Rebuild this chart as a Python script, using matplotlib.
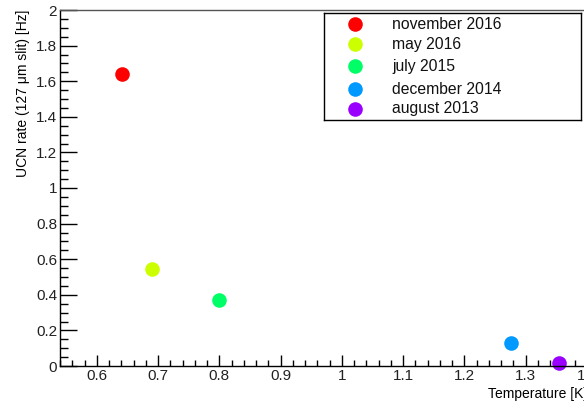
import matplotlib.pyplot as plt
from matplotlib.ticker import MultipleLocator, FuncFormatter

plt.rcParams['font.family'] = ['Liberation Sans', 'DejaVu Sans']

# UCN rate versus temperature for each run period
labels = ['november 2016', 'may 2016', 'july 2015', 'december 2014', 'august 2013']
temperature = [0.641, 0.690, 0.799, 1.276, 1.355]
rate = [1.64, 0.545, 0.37, 0.128, 0.015]
colors = ['#ff0000', '#ccff00', '#00ff66', '#0099ff', '#9900ff']

W, H = 584, 401
fig = plt.figure(figsize=(W / 100, H / 100), dpi=100)

# frame runs a little past the right edge of the canvas
ax = fig.add_axes([60 / W, 35 / H, 527 / W, 356 / H])
for x, y, c in zip(temperature, rate, colors):
    ax.plot(x, y, 'o', color=c, ms=10.5, mec='none', clip_on=False)

ax.set_xlim(0.54, 1.40)
ax.set_ylim(0, 2)
ax.xaxis.set_major_locator(MultipleLocator(0.1))
ax.xaxis.set_minor_locator(MultipleLocator(0.02))
ax.yaxis.set_major_locator(MultipleLocator(0.2))
ax.yaxis.set_minor_locator(MultipleLocator(0.05))
fmt = FuncFormatter(lambda v, p: '%g' % round(v, 3))
ax.xaxis.set_major_formatter(fmt)
ax.yaxis.set_major_formatter(fmt)

ax.tick_params(which='both', direction='in', top=False, right=False,
               labelsize=11, colors='black', labelcolor='#222222', width=1)
ax.tick_params(axis='y', which='major', length=12.5, pad=2)
ax.tick_params(axis='y', which='minor', length=6)
ax.tick_params(axis='x', which='major', length=8, pad=2.5)
ax.tick_params(axis='x', which='minor', length=4)
for s in ax.spines.values():
    s.set_linewidth(1)
    s.set_color('black')
ax.spines['top'].set_color('#555555')

ax.set_xlabel('Temperature [K]', fontsize=10, ha='right', x=1.0, labelpad=2.5)
ax.set_ylabel('UCN rate (127 \u03bcm slit) [Hz]', fontsize=10, ha='right', va='center')
ax.yaxis.set_label_coords(-37 / 527, 1.0)

# legend box
lax = fig.add_axes([324 / W, (H - 120) / H, 257 / W, 107 / H])
lax.set_xlim(0, 257)
lax.set_ylim(107, 0)
lax.set_xticks([])
lax.set_yticks([])
for s in lax.spines.values():
    s.set_linewidth(1)
rows = [11, 31, 53, 76, 96]
for yy, lab, c in zip(rows, labels, colors):
    lax.plot(31, yy, 'o', color=c, ms=10.5, mec='none')
    lax.text(68, yy, lab, fontsize=11.3, va='center', ha='left', color='#111111')

fig.savefig('out.png', dpi=100)
